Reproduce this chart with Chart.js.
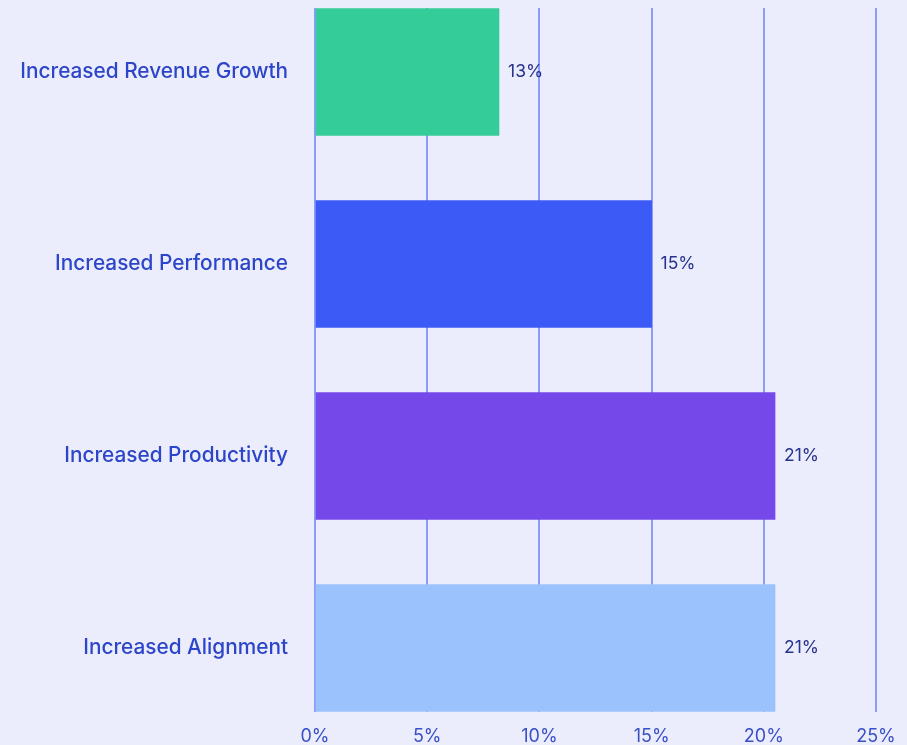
<!DOCTYPE html>
<html>
<head>
<meta charset="utf-8">
<script src="https://cdn.jsdelivr.net/npm/chart.js@4.4.0/dist/chart.umd.min.js"></script>
<style>
  html, body { margin:0; padding:0; background:#EBEDFD; }
  #wrap { width:907px; height:745px; }
</style>
</head>
<body>
<div id="wrap"><canvas id="chart" width="907" height="745"></canvas></div>
<script>
const categories = ["Increased Revenue Growth", "Increased Performance", "Increased Productivity", "Increased Alignment"];
const barValues = [8.2, 15, 20.5, 20.5];
const barLabels = ["13%", "15%", "21%", "21%"];
const barColors = ["#34CC99", "#3B5AF6", "#7548EA", "#9BC2FD"];
const xTicks = [0, 5, 10, 15, 20, 25];

// labels at the end of each bar
const endLabels = {
  id: "endLabels",
  afterDatasetsDraw(chart) {
    const ctx = chart.ctx;
    const meta = chart.getDatasetMeta(0);
    ctx.save();
    ctx.font = "17.5px Inter";
    ctx.fillStyle = "#27328C";
    ctx.textAlign = "left";
    ctx.textBaseline = "middle";
    meta.data.forEach((bar, i) => {
      ctx.fillText(barLabels[i], bar.x + 9, bar.y);
    });
    ctx.restore();
  }
};

new Chart(document.getElementById("chart"), {
  type: "bar",
  data: {
    datasets: [{
      data: barValues.map((v, i) => ({x: v, y: i})),
      backgroundColor: barColors,
      barThickness: 127,
      borderWidth: 0
    }]
  },
  options: {
    indexAxis: "y",
    responsive: false,
    animation: false,
    layout: {padding: {top: 8, right: 31, left: 0, bottom: 0}},
    plugins: {legend: {display: false}, tooltip: {enabled: false}},
    scales: {
      x: {
        type: "linear",
        min: 0,
        max: 25,
        offset: false,
        afterBuildTicks: s => { s.ticks = xTicks.map(v => ({value: v})); },
        afterFit: s => { s.height = 33; s.paddingLeft = 0; s.paddingRight = 0; },
        grid: {color: "#8B9DF8", lineWidth: 2, drawTicks: false, offset: false},
        border: {display: false},
        ticks: {
          callback: v => v + "%",
          color: "#3A50C4",
          font: {family: "Inter", size: 18},
          padding: 14,
          maxRotation: 0
        }
      },
      y: {
        type: "linear",
        reverse: true,
        offset: false,
        min: -1/3,
        max: 3 + 1/3,
        afterBuildTicks: s => { s.ticks = categories.map((_, i) => ({value: i})); },
        afterFit: s => { s.width = 315; s.paddingTop = 0; s.paddingBottom = 0; },
        grid: {display: false, drawTicks: false, offset: false},
        border: {display: false},
        ticks: {
          callback: v => categories[v],
          color: "#2C45C9",
          font: {family: "Inter", size: 20.8, weight: 500},
          padding: 27
        }
      }
    }
  },
  plugins: [endLabels]
});
</script>
</body>
</html>
